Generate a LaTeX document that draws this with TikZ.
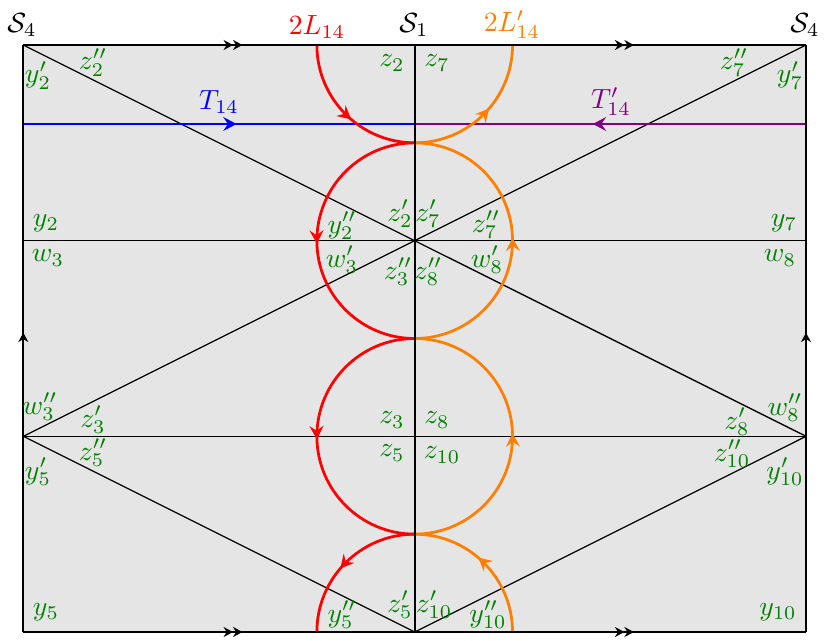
\documentclass[tikz,border=0pt]{standalone}
\usetikzlibrary{arrows.meta,decorations.markings}
\definecolor{lab}{RGB}{0,128,0}
\definecolor{myorange}{RGB}{255,128,0}
\definecolor{mypurple}{RGB}{128,0,128}
\begin{document}
\begin{tikzpicture}[x=0.36pt,y=-0.36pt,
  lbl/.style={text=lab, inner sep=0pt},
  ttl/.style={inner sep=0pt},
  thinln/.style={line width=0.45pt},
  midln/.style={line width=0.8pt},
  border/.style={line width=0.8pt},
  curve/.style={line width=1pt},
  tipA/.style={postaction={decorate}, decoration={markings, mark=at position #1 with {\arrow{Stealth[length=4.8pt,width=5pt,inset=1.7pt]}}}},
  tipB/.style={postaction={decorate}, decoration={markings, mark=at position #1 with {\arrow{Stealth[length=3.4pt,width=3.6pt,inset=1.1pt] Stealth[length=3.4pt,width=3.6pt,inset=1.1pt]}}}},
  tipC/.style={postaction={decorate}, decoration={markings, mark=at position #1 with {\arrow{Stealth[length=3.4pt,width=3.6pt,inset=1.1pt]}}}}
]
\useasboundingbox (0,0) rectangle (830,640);
% key points
\coordinate (TL) at (23.3,45);
\coordinate (TM) at (414.7,45);
\coordinate (TR) at (806,45);
\coordinate (ML1) at (23.3,240.7);
\coordinate (C1) at (414.7,240.7);
\coordinate (MR1) at (806,240.7);
\coordinate (ML2) at (23.3,436.3);
\coordinate (C2) at (414.7,436.3);
\coordinate (MR2) at (806,436.3);
\coordinate (BL) at (23.3,632);
\coordinate (BM) at (414.7,632);
\coordinate (BR) at (806,632);
\coordinate (TbL) at (23.3,124);
\coordinate (TbM) at (414.7,124);
\coordinate (TbR) at (806,124);
% background
\fill[black!10] (TL) rectangle (BR);
% inner lines
\draw[thinln] (TL) -- (MR2);
\draw[thinln] (TR) -- (ML2);
\draw[thinln] (ML2) -- (BM);
\draw[thinln] (MR2) -- (BM);
\draw[thinln] (ML1) -- (MR1);
\draw[thinln] (ML2) -- (MR2);
% T lines
\draw[curve, blue, tipA=0.545] (TbL) -- (TbM);
\draw[curve, mypurple, tipA=0.545] (TbR) -- (TbM);
% red arcs
\draw[curve, red, tipA=0.55] (TM) ++(-97.83,0) arc[start angle=180, end angle=90, radius=97.83];
\draw[curve, red, tipA=0.51] (C1) ++(0,-97.83) arc[start angle=270, end angle=90, radius=97.83];
\draw[curve, red, tipA=0.51] (C2) ++(0,-97.83) arc[start angle=270, end angle=90, radius=97.83];
\draw[curve, red, tipA=0.55] (BM) ++(0,-97.83) arc[start angle=270, end angle=180, radius=97.83];
% orange arcs
\draw[curve, myorange, tipA=0.55] (BM) ++(97.83,0) arc[start angle=360, end angle=270, radius=97.83];
\draw[curve, myorange, tipA=0.51] (C2) ++(0,97.83) arc[start angle=90, end angle=-90, radius=97.83];
\draw[curve, myorange, tipA=0.51] (C1) ++(0,97.83) arc[start angle=90, end angle=-90, radius=97.83];
\draw[curve, myorange, tipA=0.55] (TM) ++(0,97.83) arc[start angle=90, end angle=0, radius=97.83];
% middle vertical line
\draw[midln] (TM) -- (BM);
% border
\draw[border, tipB=0.56] (TL) -- (TM);
\draw[border, tipB=0.56] (TM) -- (TR);
\draw[border, tipB=0.56] (BL) -- (BM);
\draw[border, tipB=0.56] (BM) -- (BR);
\draw[border, tipC=0.51] (BL) -- (TL);
\draw[border, tipC=0.51] (BR) -- (TR);
% titles
\node[ttl] (s4l) at (22,25) {$\mathcal{S}_4$};
\node[ttl] (s1) at (414,25) {$\mathcal{S}_1$};
\node[ttl] (s4r) at (805,25) {$\mathcal{S}_4$};
\node[ttl, text=red] (l14) at (317,27) {$2L_{14}$};
\node[ttl, text=myorange] (l14p) at (512,25) {$2L'_{14}$};
\node[ttl, text=blue] (t14) at (219,102) {$T_{14}$};
\node[ttl, text=mypurple] (t14p) at (611,102) {$T'_{14}$};
% green labels
\node[lbl] (a1) at (93,63) {$z''_2$};
\node[lbl] (a2) at (38,76) {$y'_2$};
\node[lbl] (a3) at (392,63) {$z_2$};
\node[lbl] (a4) at (437,63) {$z_7$};
\node[lbl] (a5) at (734,63) {$z''_7$};
\node[lbl] (a6) at (790,76) {$y'_7$};
\node[lbl] (b1) at (400,214) {$z'_2$};
\node[lbl] (b2) at (428,214) {$z'_7$};
\node[lbl] (b3) at (342,226) {$y''_2$};
\node[lbl] (b4) at (486,225) {$z''_7$};
\node[lbl] (b5) at (46,223) {$y_2$};
\node[lbl] (b6) at (784,223) {$y_7$};
\node[lbl] (b7) at (48,258) {$w_3$};
\node[lbl] (b8) at (780,258) {$w_8$};
\node[lbl] (b9) at (342,260) {$w'_3$};
\node[lbl] (b10) at (487,260) {$w'_8$};
\node[lbl] (b11) at (398,272) {$z''_3$};
\node[lbl] (b12) at (428,272) {$z''_8$};
\node[lbl] (c1) at (40,407) {$w''_3$};
\node[lbl] (c2) at (93,420) {$z'_3$};
\node[lbl] (c3) at (392,420) {$z_3$};
\node[lbl] (c4) at (437,420) {$z_8$};
\node[lbl] (c5) at (737,422) {$z'_8$};
\node[lbl] (c6) at (785,408) {$w''_8$};
\node[lbl] (c7) at (93,453) {$z''_5$};
\node[lbl] (c8) at (38,472) {$y'_5$};
\node[lbl] (c9) at (392,453) {$z_5$};
\node[lbl] (c10) at (442,455) {$z_{10}$};
\node[lbl] (c11) at (732,454) {$z''_{10}$};
\node[lbl] (c12) at (785,472) {$y'_{10}$};
\node[lbl] (d1) at (400,605) {$z'_5$};
\node[lbl] (d2) at (434,605) {$z'_{10}$};
\node[lbl] (d3) at (342,615) {$y''_5$};
\node[lbl] (d4) at (488,615) {$y''_{10}$};
\node[lbl] (d5) at (46,612) {$y_5$};
\node[lbl] (d6) at (778,612) {$y_{10}$};
\end{tikzpicture}
\end{document}
